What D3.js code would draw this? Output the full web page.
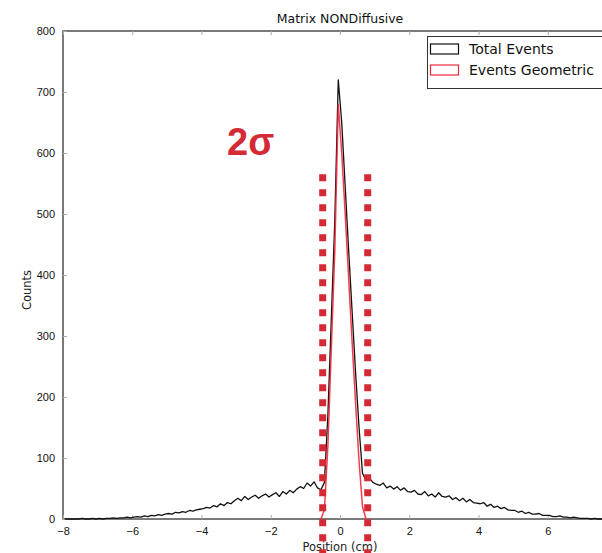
<!DOCTYPE html>
<html>
<head>
<meta charset="utf-8">
<script src="https://cdn.jsdelivr.net/npm/d3@7"></script>
<style>
  html, body { margin: 0; padding: 0; background: #fff; }
  svg { display: block; font-family: "DejaVu Sans", sans-serif; }
</style>
</head>
<body>
<svg id="chart" width="602" height="553"></svg>
<script>
// Histogram of event positions, bin width 0.1 cm starting at -8 cm
const binStart = -8;
const binWidth = 0.1;
const totalCounts = [
  0, 0, 0, 0, 0, 1, 0, 0, 1, 0,          // -8 .. -7
  1, 0, 1, 1, 2, 1, 2, 2, 3, 2,          // -7 .. -6
  3, 4, 3, 5, 4, 6, 5, 7, 6, 8,          // -6 .. -5
  9, 8, 11, 10, 12, 11, 14, 13, 15, 16,  // -5 .. -4
  17, 19, 18, 22, 20, 25, 22, 27, 25, 30,// -4 .. -3
  34, 30, 37, 32, 36, 39, 34, 38, 41, 36,// -3 .. -2
  40, 43, 37, 45, 41, 47, 43, 49, 53, 50,// -2 .. -1
  59, 54, 61, 51, 48,                    // -1 .. -0.5
  60, 170, 330, 490, 720,                // -0.5 .. 0
  650, 545, 440, 340, 240, 150, 75,      // 0 .. 0.7
  63, 67, 60,                            // 0.7 .. 1
  57, 55, 59, 51, 54, 49, 53, 47, 51, 45,// 1 .. 2
  44, 47, 41, 40, 45, 38, 41, 36, 43, 37,// 2 .. 3
  36, 38, 32, 35, 30, 34, 28, 32, 27, 26,// 3 .. 4
  25, 27, 21, 24, 19, 21, 17, 19, 15, 14,// 4 .. 5
  14, 11, 13, 9, 11, 8, 8, 9, 6, 6,      // 5 .. 6
  6, 4, 4, 5, 3, 3, 2, 3, 2, 1,          // 6 .. 7
  1, 1, 0, 1, 0, 0, 0, 0, 0, 0           // 7 .. 8
];
// Geometric events only occupy the central bins
const geomStart = -0.6;
const geomCounts = [0, 15, 120, 280, 440, 680, 600, 500, 395, 290, 190, 95, 20, 0];

// 2-sigma window
const sigmaBounds = [-0.5, 0.8];
const sigmaTop = 565;

const xTicks = [-8, -6, -4, -2, 0, 2, 4, 6];
const yTicks = [0, 100, 200, 300, 400, 500, 600, 700, 800];
const seriesNames = ["Total Events", "Events Geometric"];
const seriesColors = ["#111111", "#f0283c"];

const svg = d3.select("#chart");
const margin = { left: 63, top: 31, bottom: 519 };
const x = d3.scaleLinear().domain([-8, 8]).range([margin.left, 617]);
const y = d3.scaleLinear().domain([0, 800]).range([margin.bottom, margin.top]);

// bin counts drawn at bin centres
function centrePoints(start, counts) {
  return counts.map((c, i) => [start + (i + 0.5) * binWidth, c]);
}
const line = d3.line().x(d => x(d[0])).y(d => y(d[1]));

// frame
const axisColor = "#333";
svg.append("rect")
  .attr("x", x(-8)).attr("y", y(800))
  .attr("width", x(8) - x(-8)).attr("height", y(0) - y(800))
  .attr("fill", "none").attr("stroke", axisColor).attr("stroke-width", 1.3);

// ticks (inward, on all sides)
const gx = svg.append("g").attr("transform", `translate(0,${y(0)})`)
  .call(d3.axisBottom(x).tickValues(xTicks).tickSizeInner(-4).tickSizeOuter(0)
    .tickPadding(8).tickFormat(d => d < 0 ? "\u2212" + Math.abs(d) : d));
gx.select(".domain").remove();
gx.selectAll("line").attr("stroke", "#aaa");
gx.selectAll("text").attr("font-size", 11).attr("fill", "#111");

svg.append("g").attr("transform", `translate(0,${y(800)})`)
  .call(d3.axisTop(x).tickValues(xTicks).tickSizeInner(-4).tickSizeOuter(0).tickFormat(""))
  .call(g => g.select(".domain").remove())
  .selectAll("line").attr("stroke", "#aaa");

const gy = svg.append("g").attr("transform", `translate(${x(-8)},0)`)
  .call(d3.axisLeft(y).tickValues(yTicks).tickSizeInner(-4).tickSizeOuter(0).tickPadding(8));
gy.select(".domain").remove();
gy.selectAll("line").attr("stroke", "#aaa");
gy.selectAll("text").attr("font-size", 11).attr("fill", "#111");

// histograms
svg.append("path")
  .attr("d", line(centrePoints(binStart, totalCounts)))
  .attr("fill", "none").attr("stroke", seriesColors[0]).attr("stroke-width", 1.3)
  .attr("stroke-linejoin", "round");
svg.append("path")
  .attr("d", line(centrePoints(geomStart, geomCounts)))
  .attr("fill", "none").attr("stroke", seriesColors[1]).attr("stroke-width", 1.5)
  .attr("stroke-opacity", 0.9).attr("stroke-linejoin", "round");

// title and axis labels
svg.append("text").attr("x", 340).attr("y", 23).attr("text-anchor", "middle")
  .attr("font-size", 12.5).attr("fill", "#111").text("Matrix  NONDiffusive");
svg.append("text").attr("transform", "translate(31,290) rotate(-90)")
  .attr("text-anchor", "middle").attr("font-size", 11.5).attr("fill", "#222").text("Counts");
svg.append("text").attr("x", 340).attr("y", 551).attr("text-anchor", "middle")
  .attr("font-size", 11.5).attr("fill", "#222").text("Position (cm)");

// legend
const lg = svg.append("g");
lg.append("rect").attr("x", 427.5).attr("y", 36.5).attr("width", 190).attr("height", 52)
  .attr("fill", "#fff").attr("stroke", "#333").attr("stroke-width", 1);
seriesNames.forEach((name, i) => {
  const yy = 44 + i * 21;
  lg.append("rect").attr("x", 430.5).attr("y", yy).attr("width", 28).attr("height", 10)
    .attr("fill", "none").attr("stroke", seriesColors[i]).attr("stroke-width", 1.2);
  lg.append("text").attr("x", 469).attr("y", yy + 10).attr("font-size", 14)
    .attr("fill", "#111").text(name);
});

// 2-sigma markers
const sigmaColor = "#d42a35";
sigmaBounds.forEach(b => {
  svg.append("line")
    .attr("x1", x(b)).attr("x2", x(b))
    .attr("y1", y(sigmaTop)).attr("y2", 553)
    .attr("stroke", sigmaColor).attr("stroke-width", 7)
    .attr("stroke-dasharray", "7,8");
});
svg.append("text").attr("x", 227).attr("y", 155)
  .attr("font-size", 38).attr("font-weight", "bold")
  .attr("font-family", "Liberation Sans, Arial, sans-serif")
  .attr("fill", sigmaColor).text("2\u03C3");
</script>
</body>
</html>
